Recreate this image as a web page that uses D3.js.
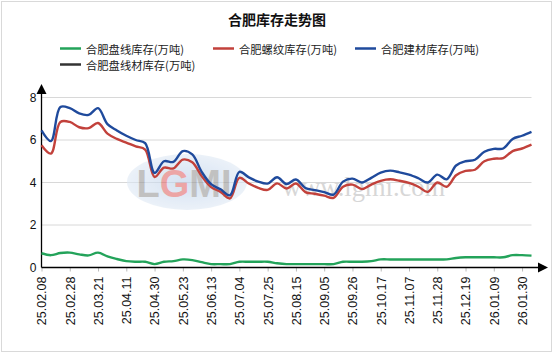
<!DOCTYPE html>
<html>
<head>
<meta charset="utf-8">
<title>合肥库存走势图</title>
<script src="https://cdnjs.cloudflare.com/ajax/libs/d3/7.8.5/d3.min.js"></script>
<style>
    html, body { margin: 0; padding: 0; background: #fff; }
    svg text { font-family: "Liberation Sans", Arial, "Noto Sans CJK SC", sans-serif; }
    svg text.cjk { font-family: "Noto Sans CJK SC", "Liberation Sans", sans-serif; }
    svg text.serif { font-family: "Liberation Serif", "DejaVu Serif", serif; }
</style>
</head>
<body>
<div id="chart"></div>
<script>
    // weekly points, one tick label every third week
    const tickLabels = ['25.02.08', '25.02.28', '25.03.21', '25.04.11', '25.04.30', '25.05.23',
        '25.06.13', '25.07.04', '25.07.25', '25.08.15', '25.09.05', '25.09.26',
        '25.10.17', '25.11.07', '25.11.28', '25.12.19', '26.01.09', '26.01.30'];

    const seriesNames = ['合肥盘线库存(万吨)', '合肥螺纹库存(万吨)', '合肥建材库存(万吨)', '合肥盘线材库存(万吨)'];
    const seriesColors = ['#23a35a', '#c2413b', '#1f4a9c', '#333333'];

    const coilStock = [0.67, 0.58, 0.68, 0.7, 0.62, 0.57, 0.7, 0.52, 0.4, 0.3,
        0.27, 0.27, 0.16, 0.27, 0.3, 0.38, 0.35, 0.25, 0.16, 0.16,
        0.16, 0.27, 0.27, 0.27, 0.27, 0.2, 0.16, 0.16, 0.16, 0.16,
        0.16, 0.16, 0.27, 0.27, 0.27, 0.3, 0.38, 0.38, 0.38, 0.38,
        0.38, 0.38, 0.38, 0.38, 0.45, 0.48, 0.48, 0.48, 0.48, 0.48,
        0.58, 0.58, 0.56];

    const rebarStock = [5.75, 5.36, 6.85, 6.85, 6.6, 6.56, 6.8, 6.3, 6.05, 5.88,
        5.7, 5.55, 4.26, 4.7, 4.66, 5.08, 4.95, 4.3, 3.78, 3.56,
        3.25, 4.22, 3.95, 3.75, 3.65, 3.96, 3.72, 3.95, 3.55, 3.47,
        3.38, 3.28, 3.8, 3.9, 3.69, 3.9, 4.08, 4.15, 4.08, 3.98,
        3.8, 3.56, 4.0, 3.8, 4.34, 4.55, 4.6, 5.0, 5.12, 5.15,
        5.48, 5.6, 5.78];

    const buildingStock = [6.45, 5.95, 7.55, 7.5, 7.25, 7.18, 7.5, 6.75, 6.45, 6.2,
        6.0, 5.85, 4.45, 5.0, 4.97, 5.48, 5.32, 4.5, 3.92, 3.68,
        3.4, 4.5, 4.24, 4.04, 3.95, 4.25, 3.93, 4.14, 3.74, 3.64,
        3.55, 3.43, 4.04, 4.18, 4.0, 4.22, 4.47, 4.56, 4.48, 4.37,
        4.2, 4.0, 4.37, 4.15, 4.8, 5.0, 5.07, 5.45, 5.58, 5.6,
        6.05, 6.2, 6.38];

    const coilMaterialStock = [];  // in the legend, no line drawn

    const yTicks = [0, 2, 4, 6, 8];

    const width = 553, height = 354;
    const plotLeft = 41.5, plotRight = 531.5, plotTop = 97.5, plotBottom = 267.5;

    const svg = d3.select('#chart').append('svg')
        .attr('width', width)
        .attr('height', height);

    svg.append('rect')
        .attr('x', 1.5).attr('y', 1.5)
        .attr('width', width - 3).attr('height', height - 4)
        .attr('fill', '#fff')
        .attr('stroke', '#d9d9d9');

    svg.append('text')
        .attr('class', 'cjk')
        .attr('x', 277).attr('y', 19)
        .attr('text-anchor', 'middle')
        .attr('dominant-baseline', 'central')
        .attr('font-size', 14)
        .attr('font-weight', 'bold')
        .attr('fill', '#111')
        .text('合肥库存走势图');

    // legend
    const legendPos = [[60, 48.5], [213, 48.5], [355, 48.5], [60, 64.5]];
    const legend = svg.append('g')
        .selectAll('g')
        .data(seriesNames)
        .enter()
        .append('g')
        .attr('transform', (d, i) => `translate(${legendPos[i][0]},${legendPos[i][1]})`);

    legend.append('line')
        .attr('x1', 0).attr('x2', 21)
        .attr('stroke', (d, i) => seriesColors[i])
        .attr('stroke-width', 2.5);

    legend.append('text')
        .attr('class', 'cjk')
        .attr('x', 26)
        .attr('dominant-baseline', 'central')
        .attr('font-size', 11.3)
        .attr('fill', '#222')
        .text(d => d);

    const x = d3.scaleLinear().domain([0, buildingStock.length - 1]).range([plotLeft, plotRight]);
    const y = d3.scaleLinear().domain([0, 8]).range([plotBottom, plotTop]);

    // grid
    svg.append('g')
        .selectAll('line')
        .data(yTicks.filter(d => d > 0))
        .enter()
        .append('line')
        .attr('x1', plotLeft).attr('x2', plotRight)
        .attr('y1', d => y(d)).attr('y2', d => y(d))
        .attr('stroke', '#d8d8d8');

    // watermark
    const wm = svg.append('g').attr('opacity', 0.6);
    const grad = svg.append('defs').append('radialGradient').attr('id', 'wmgrad');
    grad.append('stop').attr('offset', '0%').attr('stop-color', '#b9cfea');
    grad.append('stop').attr('offset', '100%').attr('stop-color', '#dfe9f5');
    wm.append('ellipse')
        .attr('cx', 187).attr('cy', 182).attr('rx', 60).attr('ry', 28)
        .attr('fill', 'url(#wmgrad)');
    const logo = wm.append('text')
        .attr('x', 184).attr('y', 197)
        .attr('text-anchor', 'middle')
        .attr('font-size', 38)
        .attr('font-weight', 'bold')
        .attr('fill', '#999');
    logo.append('tspan').text('L');
    logo.append('tspan').attr('fill', '#e06a6a').text('G');
    logo.append('tspan').text('MI');
    wm.append('text')
        .attr('class', 'serif')
        .attr('x', 282).attr('y', 196)
        .attr('font-size', 26.5)
        .attr('fill', '#bdbdbd')
        .text('www.lgmi.com');

    // y axis
    const yAxis = d3.axisLeft(y).tickValues(yTicks).tickSize(0).tickPadding(5);
    const gy = svg.append('g').attr('transform', `translate(${plotLeft},0)`).call(yAxis);
    gy.select('.domain').remove();
    gy.selectAll('text').attr('font-size', 12).attr('fill', '#111');

    // x axis
    const xAxis = d3.axisBottom(x)
        .tickValues(tickLabels.map((d, i) => i * 3))
        .tickFormat((d, i) => tickLabels[i])
        .tickSize(4)
        .tickPadding(4);
    const gx = svg.append('g').attr('transform', `translate(0,${plotBottom})`).call(xAxis);
    gx.select('.domain').remove();
    gx.selectAll('line').attr('stroke', '#bbb');
    gx.selectAll('text')
        .attr('font-size', 12.5)
        .attr('fill', '#111')
        .attr('text-anchor', 'end')
        .attr('dy', '0.35em')
        .attr('transform', 'rotate(-90)')
        .attr('x', -9)
        .attr('y', 0);

    // axis lines with arrows
    svg.append('line')
        .attr('x1', plotLeft).attr('x2', 540)
        .attr('y1', plotBottom).attr('y2', plotBottom)
        .attr('stroke', '#000').attr('stroke-width', 1.3);
    svg.append('path')
        .attr('d', `M538,${plotBottom - 5}L548,${plotBottom}L538,${plotBottom + 5}Z`)
        .attr('fill', '#000');
    svg.append('line')
        .attr('x1', plotLeft).attr('x2', plotLeft)
        .attr('y1', plotBottom).attr('y2', 92)
        .attr('stroke', '#000').attr('stroke-width', 1.3);
    svg.append('path')
        .attr('d', `M${plotLeft - 5},94L${plotLeft},84L${plotLeft + 5},94Z`)
        .attr('fill', '#000');

    const line = d3.line()
        .x((d, i) => x(i))
        .y(d => y(d))
        .curve(d3.curveCatmullRom.alpha(0.5));

    const series = [coilStock, rebarStock, buildingStock, coilMaterialStock];

    svg.append('g')
        .selectAll('path')
        .data(series.map((values, i) => ({ values, color: seriesColors[i] })).filter(s => s.values.length > 0))
        .enter()
        .append('path')
        .attr('fill', 'none')
        .attr('stroke', d => d.color)
        .attr('stroke-width', 2.4)
        .attr('stroke-linejoin', 'round')
        .attr('d', d => line(d.values));
</script>
</body>
</html>
